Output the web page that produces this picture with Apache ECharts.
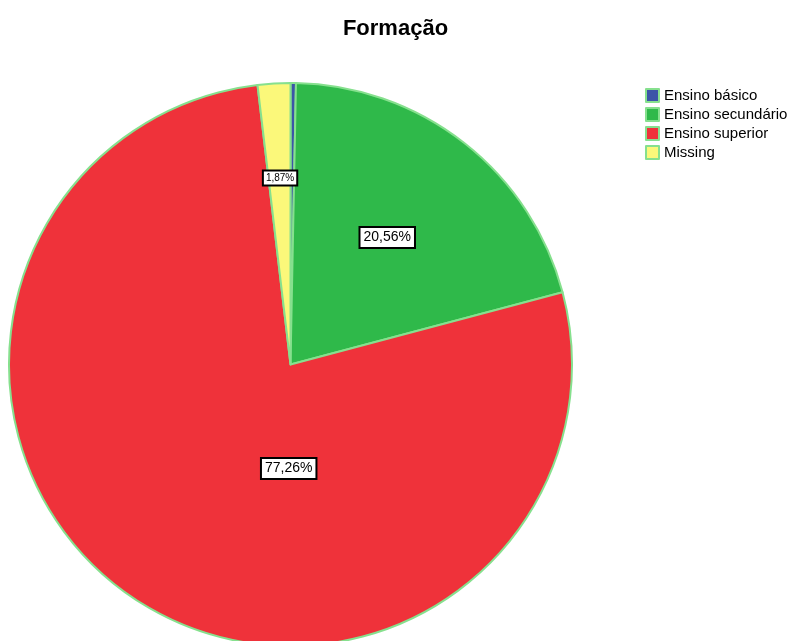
<!DOCTYPE html>
<html>
<head>
<meta charset="utf-8">
<script src="https://cdn.jsdelivr.net/npm/echarts@6/dist/echarts.min.js"></script>
<style>
  html, body { margin: 0; padding: 0; background: #ffffff; }
  #chart { width: 791px; height: 641px; }
</style>
</head>
<body>
<div id="chart"></div>
<script>
// Education level shares (percent)
const categories = ['Ensino básico', 'Ensino secundário', 'Ensino superior', 'Missing'];
const percentages = [0.31, 20.56, 77.26, 1.87];
const sliceColors = ['#3c55a8', '#2fb94a', '#ef323a', '#fbf87a'];
const showLabel = [false, true, true, true];

// Per-slice label nudges and sizes, relative to the default inside position
const labelShift = {
  'Ensino secundário': { dx: 8, dy: -14, size: 14 },
  'Ensino superior': { dx: 79, dy: -15, size: 14 },
  'Missing': { dx: -2, dy: -43, size: 10 }
};

const fmt = v => v.toFixed(2).replace('.', ',') + '%';

const data = categories.map((name, i) => ({
  name,
  value: percentages[i],
  itemStyle: { color: sliceColors[i] },
  label: {
    show: showLabel[i],
    fontSize: labelShift[name] ? labelShift[name].size : 14,
    padding: labelShift[name] && labelShift[name].size < 12 ? [2, 2, 1, 2] : [3, 3, 2, 3]
  }
}));

const chart = echarts.init(document.getElementById('chart'), null, { renderer: 'canvas' });
chart.setOption({
  animation: false,
  backgroundColor: '#ffffff',
  title: {
    text: 'Formação',
    left: 'center',
    top: 13,
    textStyle: { fontFamily: 'Liberation Sans', fontSize: 22, fontWeight: 'bold', color: '#000' }
  },
  legend: {
    orient: 'vertical',
    left: 640,
    top: 83,
    itemWidth: 13,
    itemHeight: 13,
    itemGap: 4,
    icon: 'rect',
    selectedMode: false,
    itemStyle: { borderColor: '#86e08e', borderWidth: 2 },
    textStyle: { fontFamily: 'Liberation Sans', fontSize: 15, color: '#000' },
    data: categories
  },
  series: [{
    type: 'pie',
    center: [290.5, 364.5],
    radius: 281.5,
    startAngle: 90,
    clockwise: true,
    avoidLabelOverlap: false,
    silent: true,
    itemStyle: { borderColor: '#86e08e', borderWidth: 2 },
    label: {
      position: 'inside',
      formatter: p => fmt(p.value),
      fontFamily: 'Liberation Sans',
      color: '#000',
      backgroundColor: '#ffffff',
      borderColor: '#000',
      borderWidth: 2
    },
    labelLine: { show: false },
    labelLayout: params => {
      const name = categories[params.dataIndex];
      const s = labelShift[name];
      return s ? { dx: s.dx, dy: s.dy } : {};
    },
    data
  }]
});
</script>
</body>
</html>
